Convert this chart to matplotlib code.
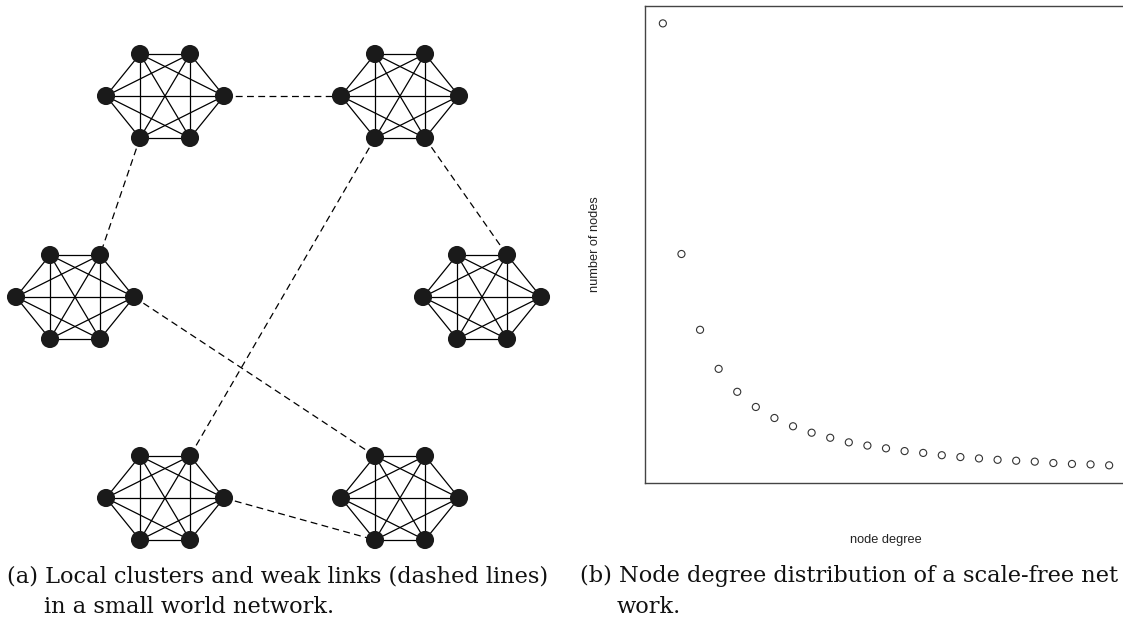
import numpy as np
import matplotlib
matplotlib.use("Agg")
import matplotlib.pyplot as plt

# --- (a) small world network: 6 fully connected clusters + weak links
cluster_x = [165, 400, 75, 482, 165, 400]
cluster_y = [96, 96, 297, 297, 498, 498]
# node layout inside a cluster (left, top-left, top-right, right, bottom-right, bottom-left)
hex_dx = [-59, -25, 25, 59, 25, -25]
hex_dy = [0, -42, -42, 0, 42, 42]
# weak links: (cluster, node) -> (cluster, node)
weak_links = [((0, 3), (1, 0)),
              ((0, 5), (2, 2)),
              ((1, 4), (3, 2)),
              ((1, 5), (4, 2)),
              ((2, 3), (5, 1)),
              ((4, 3), (5, 5))]

# --- (b) degree distribution
degree = list(range(1, 26))
n_nodes = [1000, 498, 333, 248, 198, 165, 141, 123, 109, 98, 88, 81, 75,
           69, 65, 60, 56, 53, 50, 48, 46, 43, 41, 40, 38]

cap_a = ["(a) Local clusters and weak links (dashed lines)", "in a small world network."]
cap_b = ["(b) Node degree distribution of a scale-free net", "work."]

W, H = 1123, 624
fig = plt.figure(figsize=(W / 100, H / 100), dpi=100)

# network panel, data units = pixels of the figure
ax = fig.add_axes([0, 0, 1, 1])
ax.set_xlim(0, W)
ax.set_ylim(H, 0)
ax.axis("off")


def node_pos(c, n):
    return cluster_x[c] + hex_dx[n], cluster_y[c] + hex_dy[n]


for c in range(len(cluster_x)):
    xs = [node_pos(c, n)[0] for n in range(6)]
    ys = [node_pos(c, n)[1] for n in range(6)]
    for i in range(6):
        for j in range(i + 1, 6):
            ax.plot([xs[i], xs[j]], [ys[i], ys[j]], color="black", lw=0.9, zorder=1)
    ax.scatter(xs, ys, s=170, color="#1a1a1a", edgecolor="none", zorder=3)

for (c1, n1), (c2, n2) in weak_links:
    x1, y1 = node_pos(c1, n1)
    x2, y2 = node_pos(c2, n2)
    ax.plot([x1, x2], [y1, y2], color="black", lw=0.9, ls=(0, (5.5, 3.5)), zorder=1)

# degree distribution panel
left, right, top, bottom = 645, 1127, 5.7, 483
ax2 = fig.add_axes([left / W, 1 - bottom / H, (right - left) / W, (bottom - top) / H])
ax2.scatter(degree, n_nodes, s=26, facecolor="none", edgecolor="#333333", lw=0.8)
xpad = 0.04 * (max(degree) - min(degree))
ypad = 0.04 * (max(n_nodes) - min(n_nodes))
ax2.set_xlim(min(degree) - xpad, max(degree) + xpad)
ax2.set_ylim(min(n_nodes) - ypad, max(n_nodes) + ypad)
ax2.set_xticks([])
ax2.set_yticks([])
for sp in ax2.spines.values():
    sp.set_color("#444444")
    sp.set_linewidth(1.0)
ax2.set_xlabel("node degree", fontsize=9.2, family="Liberation Sans", color="#222222", labelpad=37)
ax2.set_ylabel("number of nodes", fontsize=9.2, family="Liberation Sans", color="#222222", labelpad=32)

# captions
cap_kw = dict(fontsize=16.2, family="DejaVu Serif", color="#111111", va="baseline")
fig.text(7 / W, 1 - 582 / H, cap_a[0], **cap_kw)
fig.text(44 / W, 1 - 613 / H, cap_a[1], **cap_kw)
fig.text(580 / W, 1 - 582 / H, cap_b[0], **cap_kw)
fig.text(617 / W, 1 - 613 / H, cap_b[1], **cap_kw)

fig.savefig("out.png", dpi=100)
